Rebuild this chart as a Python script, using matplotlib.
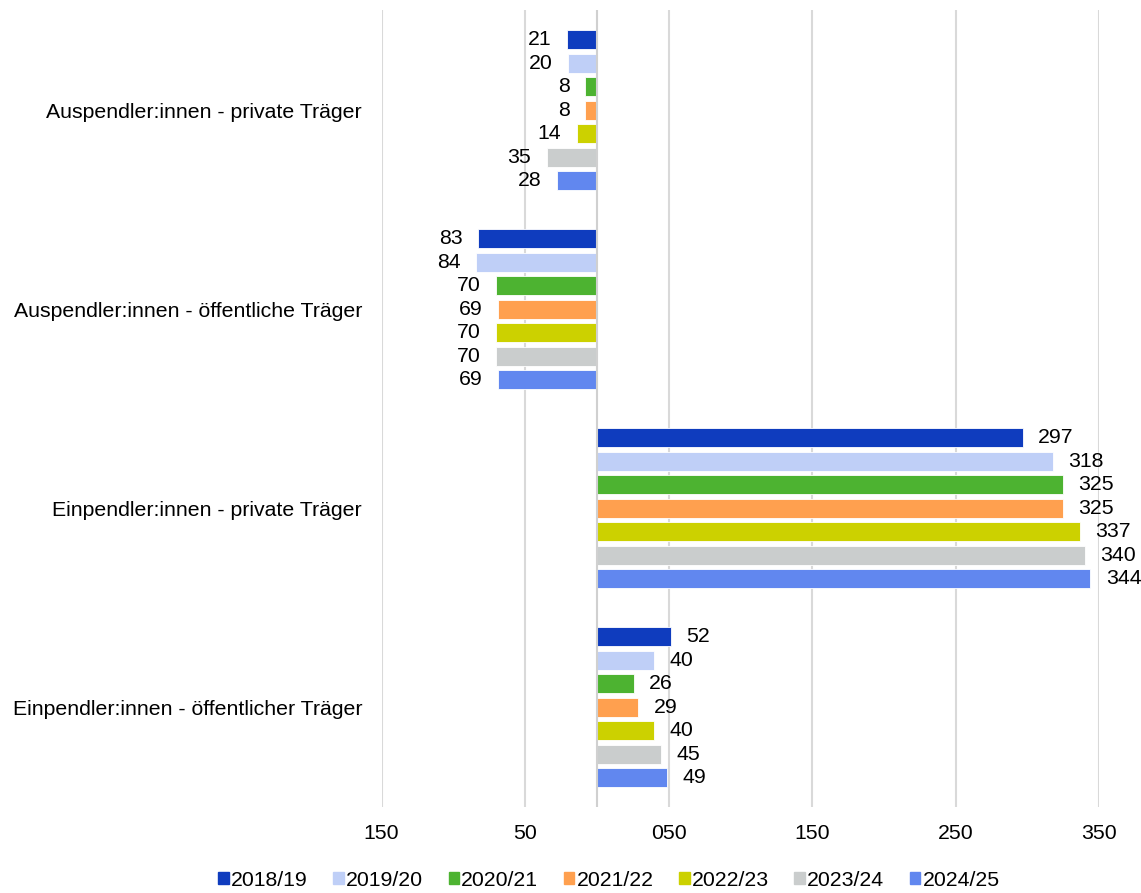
import matplotlib
matplotlib.use("Agg")
import matplotlib.pyplot as plt
from matplotlib.patches import Rectangle
import numpy as np

plt.rcParams['font.family'] = ['Liberation Sans', 'DejaVu Sans']

categories = ["Auspendler:innen - private Träger",
              "Auspendler:innen - öffentliche Träger",
              "Einpendler:innen - private Träger",
              "Einpendler:innen - öffentlicher Träger"]
years = ["2018/19", "2019/20", "2020/21", "2021/22", "2022/23", "2023/24", "2024/25"]
# rows = years, columns = categories (absolute values)
values = {
    "2018/19": [21, 83, 297, 52],
    "2019/20": [20, 84, 318, 40],
    "2020/21": [8, 70, 325, 26],
    "2021/22": [8, 69, 325, 29],
    "2022/23": [14, 70, 337, 40],
    "2023/24": [35, 70, 340, 45],
    "2024/25": [28, 69, 344, 49],
}
# Auspendler shown to the left (negative direction)
direction = [-1, -1, 1, 1]
colors = ["#0F3CBE", "#BFCFF7", "#4DB331", "#FFA04F", "#CCD100", "#CACDCD", "#6187EF"]
tick_pos = [-150, -50, 50, 150, 250, 350]
tick_labels = ["150", "50", "050", "150", "250", "350"]

FS = 15.3
W, H = 1141, 893
fig = plt.figure(figsize=(W / 100, H / 100), dpi=100)
left_px, right_px, top_px, bottom_px = 381.5, 1099, 10.5, 807
ax = fig.add_axes([left_px / W, 1 - bottom_px / H, (right_px - left_px) / W, (bottom_px - top_px) / H])

n = len(years)
pitch = 23.5 / 199.0
height = 19.0 / 199.0
y_cat = np.arange(len(categories))

for i, yr in enumerate(years):
    offs = (i - (n - 1) / 2) * pitch
    vals = [v * d for v, d in zip(values[yr], direction)]
    bars = ax.barh(y_cat + offs, vals, height=height, color=colors[i],
                   edgecolor="white", linewidth=0.6, zorder=3, label=yr)
    ax.bar_label(bars, labels=[str(v) for v in values[yr]], padding=11,
                 fontsize=FS, color="black")

ax.set_xlim(-150, 350)
ax.set_ylim(len(categories) - 0.5, -0.5)

for x in tick_pos:
    ax.axvline(x, color="#D9D9D9", linewidth=1.5, zorder=1)
ax.axvline(0, color="#D0D0D0", linewidth=1.5, zorder=4)

for s in ax.spines.values():
    s.set_visible(False)

ax.set_xticks(tick_pos)
ax.set_xticklabels(tick_labels, fontsize=FS)
ax.tick_params(axis="x", length=0, pad=12)
ax.set_yticks(y_cat)
ax.set_yticklabels(categories, fontsize=FS)
ax.tick_params(axis="y", length=0, pad=14)

handles = [Rectangle((0, 0), 1, 1, color=c) for c in colors]
fig.legend(handles, years, loc="center", bbox_to_anchor=(609 / W, 1 - 880 / H),
           ncol=n, frameon=False, fontsize=FS, handlelength=0.5, handleheight=0.5,
           handletextpad=0.1, columnspacing=1.2)

fig.savefig("out.png", dpi=100)
